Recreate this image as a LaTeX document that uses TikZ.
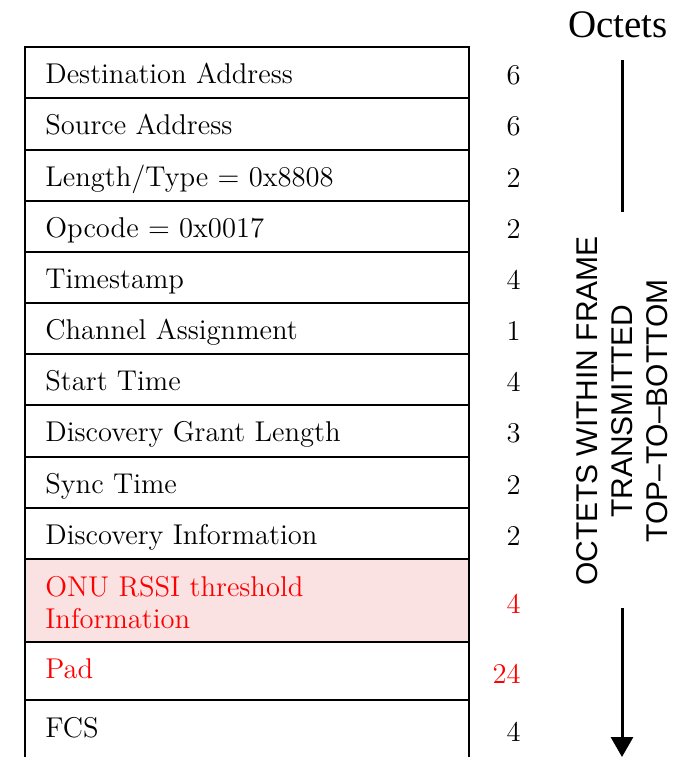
\documentclass[tikz,border=0pt]{standalone}
\usepackage{fontspec}
\newfontfamily\arialfont{Liberation Sans}
\newfontfamily\timesfont{Liberation Serif}
\usetikzlibrary{arrows.meta}
\definecolor{newred}{RGB}{255,0,0}
\definecolor{newpink}{RGB}{250,226,226}
\tikzset{
  frame/.style={line width=.8pt},
  field/.style={anchor=base west, inner sep=0pt, font=\fontsize{14.3}{16}\selectfont, align=left},
  octets/.style={anchor=base east, inner sep=0pt, font=\fontsize{14.3}{16}\selectfont},
}
\begin{document}
\begin{tikzpicture}[x=.5pt, y=-.5pt, >={Triangle[length=10pt, width=11pt]}]
\useasboundingbox (0,0) rectangle (684,757);
\fill[newpink] (25,559) rectangle (469,642);
\draw[frame] (25,770) -- (25,47) -- (469,47) -- (469,770);
\foreach \y in {98,150,201,252,303,354,405,457,508,559,642,700}
  \draw[frame] (25,\y) -- (469,\y);
\foreach \y/\field/\num [count=\i] in {47/Destination Address/6, 98/Source Address/6,
    150/{Length/Type = 0x8808}/2, 201/{Opcode = 0x0017}/2, 252/Timestamp/4,
    303/Channel Assignment/1, 354/Start Time/4, 405/Discovery Grant Length/3,
    457/Sync Time/2, 508/Discovery Information/2}{
  \node[field] (field\i) at (45,\y+36) {\field};
  \node[octets] (oct\i) at (521,\y+37) {\num};
}
\node[field, text=newred] (field11) at (45,628) {ONU RSSI threshold\\Information};
\node[octets, text=newred] (oct11) at (521,613) {4};
\node[field, text=newred] (field12) at (45,678) {Pad};
\node[octets, text=newred] (oct12) at (521,683) {24};
\node[field] (field13) at (45,737) {FCS};
\node[octets] (oct13) at (521,741) {4};

\node (title) at (618,25) {\timesfont\fontsize{19.5}{22}\selectfont Octets};
\node[rotate=90, align=center, font=\arialfont\fontsize{15}{17.5}\selectfont] (order) at (622,411)
  {OCTETS WITHIN FRAME\\TRANSMITTED\\TOP–TO–BOTTOM};
\coordinate (lineA) at (622,60);
\coordinate (lineB) at (622,212);
\coordinate (lineC) at (622,608);
\coordinate (lineD) at (622,757);
\draw[line width=1.5pt] (lineA)--(lineB);
\draw[->, line width=1.5pt] (lineC)--(lineD);
\end{tikzpicture}
\end{document}
